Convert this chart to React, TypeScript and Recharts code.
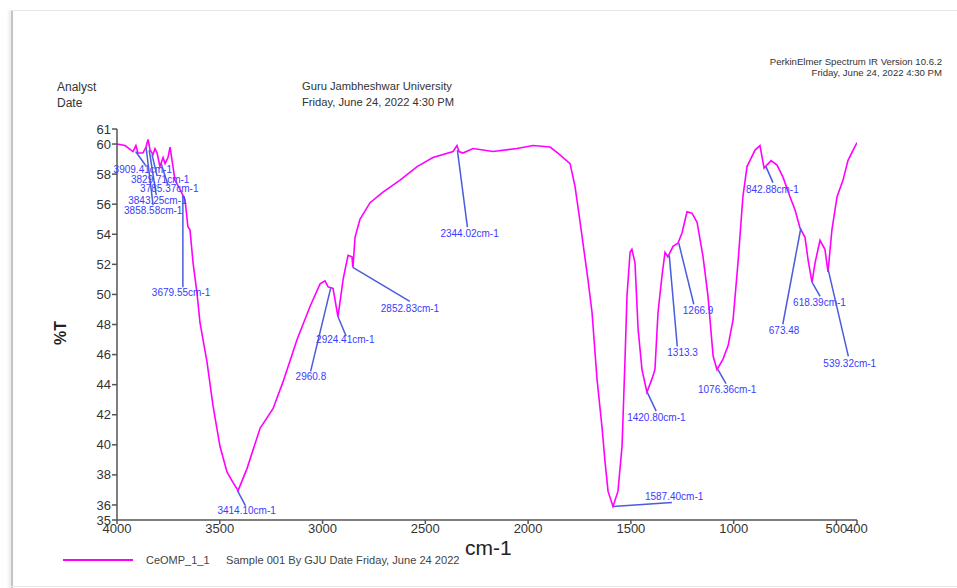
import React from 'react';
import { LineChart, Line, XAxis, YAxis, ReferenceDot } from 'recharts';

// Spectrum (wavenumber, cm-1) and transmittance (%T)
const wavenumbers = [
  4000, 3961, 3922, 3908, 3898, 3874, 3859, 3849, 3839, 3825, 3815, 3805, 3791, 3776, 3766, 3752, 3742, 3732,
  3718, 3694, 3669, 3655, 3645, 3630, 3611, 3596, 3562, 3533, 3499, 3465, 3436, 3411, 3368, 3304, 3241, 3192,
  3124, 3061, 3012, 2988, 2973, 2949, 2925, 2900, 2876, 2857, 2852, 2842, 2818, 2769, 2706, 2623, 2540, 2463,
  2365, 2346, 2336, 2317, 2268, 2171, 2054, 1976, 1893, 1855, 1796, 1772, 1747, 1733, 1709, 1689, 1665, 1640,
  1626, 1611, 1587, 1563, 1543, 1529, 1519, 1504, 1495, 1480, 1465, 1446, 1422, 1397, 1383, 1368, 1349, 1334,
  1320, 1295, 1271, 1251, 1227, 1203, 1178, 1149, 1125, 1100, 1081, 1052, 1027, 1003, 979, 955, 935, 921,
  896, 872, 852, 818, 789, 760, 726, 701, 677, 653, 638, 619, 604, 580, 556, 541, 522, 497, 468, 444, 419, 400,
];
const transmittance = [
  60.0, 59.9, 59.5, 59.9, 59.4, 59.4, 59.8, 60.3, 59.6, 59.3, 59.7, 59.4, 58.5, 59.1, 58.7, 59.1, 59.8, 58.9,
  57.6, 57.0, 56.3, 54.5, 54.3, 52.1, 50.1, 48.1, 45.5, 42.6, 39.9, 38.2, 37.5, 36.95, 38.4, 41.1, 42.4, 44.2,
  47.0, 49.2, 50.7, 50.9, 50.5, 50.4, 48.5, 51.0, 52.6, 52.5, 51.8, 53.8, 55.0, 56.1, 56.8, 57.6, 58.5, 59.1,
  59.5, 59.9, 59.5, 59.4, 59.7, 59.5, 59.7, 59.9, 59.8, 59.4, 58.7, 57.2, 54.8, 53.4, 51.0, 48.8, 44.4, 41.1,
  38.9, 36.9, 35.9, 36.9, 39.9, 45.5, 49.9, 52.8, 53.0, 52.1, 47.7, 45.0, 43.5, 44.4, 45.0, 48.8, 51.2, 52.8,
  52.5, 53.2, 53.4, 54.1, 55.5, 55.4, 54.8, 52.5, 49.9, 45.9, 45.0, 45.7, 46.6, 48.3, 52.1, 56.5, 58.5, 58.9,
  59.6, 59.9, 58.4, 58.9, 58.6, 57.8, 56.5, 55.6, 54.4, 53.8, 52.3, 50.8, 52.1, 53.6, 53.0, 51.5, 54.3, 56.5,
  57.6, 58.9, 59.6, 60.1,
];

const xTicks = [4000, 3500, 3000, 2500, 2000, 1500, 1000, 500, 400];
const yTicks = [35, 36, 38, 40, 42, 44, 46, 48, 50, 52, 54, 56, 58, 60, 61];

// Peak annotations
const peakWavenumbers = [3909.41, 3858.58, 3843.25, 3829.71, 3785.37, 3679.55, 3414.1, 2960.8, 2924.41, 2852.83, 2344.02, 1587.4, 1420.8, 1313.3, 1266.9, 1076.36, 842.88, 673.48, 618.39, 539.32];
const peakTransmittance = [59.5, 59.8, 59.6, 59.3, 58.7, 56.6, 36.95, 50.4, 48.5, 51.8, 59.6, 35.9, 43.5, 52.6, 53.4, 45.0, 58.5, 54.4, 50.8, 51.6];
const peakLabels = ['3909.41cm-1', '3858.58cm-1', '3843.25cm-1', '3829.71cm-1', '3785.37cm-1', '3679.55cm-1', '3414.10cm-1', '2960.8', '2924.41cm-1', '2852.83cm-1', '2344.02cm-1', '1587.40cm-1', '1420.80cm-1', '1313.3', '1266.9', '1076.36cm-1', '842.88cm-1', '673.48', '618.39cm-1', '539.32cm-1'];

// label layout (pixel offsets from the peak point): [lineDx, lineDy, textDx, textDy]
const labelLayout = [
  [10, 14, -22, 18], [7, 58, -22, 63], [7, 45, -21, 50], [5, 21, -21, 25], [7, 22, -21, 25],
  [0, 92, -31, 97], [8, 15, -20, 20], [-20, 83, -35, 88], [8, 19, -22, 23], [57, 34, 28, 41],
  [10, 77, -17, 83], [59, -4, 32, -10], [9, 19, -20, 25], [8, 91, -2, 97], [15, 61, 4, 67],
  [8, 14, -20, 20], [7, 16, -20, 23], [-18, 96, -32, 102], [8, 14, -19, 20], [20, 86, -5, 93],
];

const data = wavenumbers.map((w, i) => ({ wn: w, t: transmittance[i] }));

const FONT = "'Liberation Sans', Arial, sans-serif";
const CURVE = '#ff00ff';
const LABEL_BLUE = '#3a3aff';
const LINE_BLUE = '#4a5cdc';
const AXIS = '#555555';
const TEXT = '#333333';

const abs = (left: number, top: number, extra: React.CSSProperties = {}): React.CSSProperties => ({
  position: 'absolute', left, top, fontFamily: FONT, color: TEXT, whiteSpace: 'nowrap', lineHeight: 1, ...extra,
});

export default function App() {
  return (
    <div style={{ position: 'absolute', left: 0, top: 0, width: 957, height: 588, background: '#fff', overflow: 'hidden' }}>
      {/* page frame */}
      <div style={{ position: 'absolute', left: 11, top: 10, width: 2, height: 580, background: '#c4c4c4', boxShadow: '-2px 0 3px rgba(0,0,0,0.12)' }} />
      <div style={{ position: 'absolute', left: 11, top: 10, width: 946, height: 1, background: '#e6e6e6' }} />
      <div style={{ position: 'absolute', left: 11, top: 586, width: 946, height: 1, background: '#e6e6e6' }} />

      {/* header */}
      <div style={abs(57, 81, { fontSize: 12 })}>Analyst</div>
      <div style={abs(57, 97, { fontSize: 12 })}>Date</div>
      <div style={abs(302, 81, { fontSize: 11.2 })}>Guru Jambheshwar University</div>
      <div style={abs(302, 97, { fontSize: 11.2 })}>Friday, June 24, 2022 4:30 PM</div>
      <div style={abs(700, 57, { fontSize: 9.6, width: 242, textAlign: 'right' })}>PerkinElmer Spectrum IR Version 10.6.2</div>
      <div style={abs(700, 68, { fontSize: 9.6, width: 242, textAlign: 'right' })}>Friday, June 24, 2022 4:30 PM</div>

      {/* axis titles */}
      <div style={abs(61, 333, { fontSize: 16, fontWeight: 'bold', transform: 'translate(-50%, -50%) rotate(-90deg)', color: '#222' })}>%T</div>
      <div style={abs(465, 537, { fontSize: 21, color: '#222' })}>cm-1</div>

      {/* legend */}
      <div style={{ position: 'absolute', left: 63, top: 559, width: 70, height: 2, background: CURVE }} />
      <div style={abs(146, 555, { fontSize: 11, color: '#444' })}>CeOMP_1_1</div>
      <div style={abs(226, 555, { fontSize: 11.1, color: '#444' })}>Sample 001 By GJU Date Friday, June 24 2022</div>

      <div style={{ position: 'absolute', left: 0, top: 0 }}>
        <LineChart width={957} height={588} data={data} margin={{ top: 129, right: 100, bottom: 38, left: 77 }}>
          <XAxis
            dataKey="wn"
            type="number"
            domain={[400, 4000]}
            reversed
            ticks={xTicks}
            interval={0}
            height={30}
            tickSize={4}
            tickMargin={0}
            allowDataOverflow
            stroke={AXIS}
            strokeWidth={1.5}
            tick={{ fill: TEXT, fontSize: 13, fontFamily: FONT }}
          />
          <YAxis
            type="number"
            domain={[35, 61]}
            ticks={yTicks}
            interval={0}
            width={40}
            tickSize={5}
            tickMargin={1}
            allowDataOverflow
            stroke={AXIS}
            strokeWidth={1.5}
            tick={{ fill: TEXT, fontSize: 13, fontFamily: FONT }}
          />
          <Line type="linear" dataKey="t" stroke={CURVE} strokeWidth={1.6} dot={false} isAnimationActive={false} />
          {peakWavenumbers.map((w, i) => {
            const [ldx, ldy, tdx, tdy] = labelLayout[i];
            return (
              <ReferenceDot
                key={peakLabels[i]}
                x={w}
                y={peakTransmittance[i]}
                r={0}
                ifOverflow="visible"
                shape={(p: any) => (
                  <g>
                    <line x1={p.cx} y1={p.cy} x2={p.cx + ldx} y2={p.cy + ldy} stroke={LINE_BLUE} strokeWidth={1.5} />
                    <text x={p.cx + tdx} y={p.cy + tdy} dominantBaseline="central" fontSize={10} fontFamily={FONT} fill={LABEL_BLUE}>
                      {peakLabels[i]}
                    </text>
                  </g>
                )}
              />
            );
          })}
        </LineChart>
      </div>
    </div>
  );
}
